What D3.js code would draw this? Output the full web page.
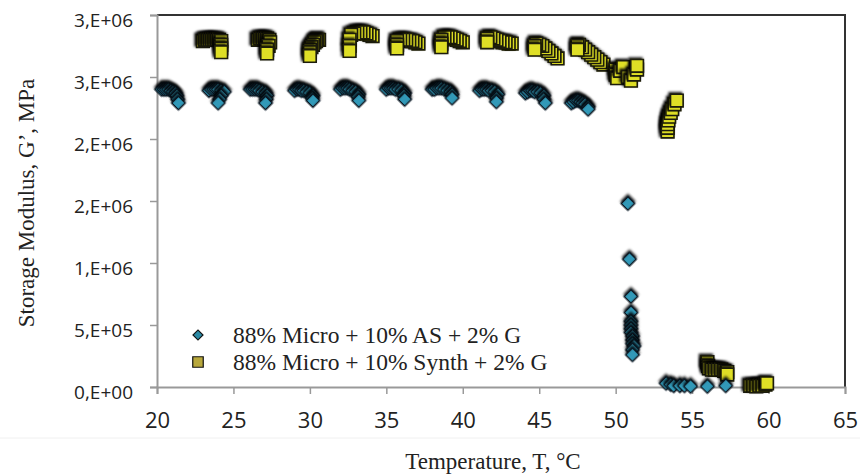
<!DOCTYPE html>
<html>
<head>
<meta charset="utf-8">
<script src="https://cdn.jsdelivr.net/npm/d3@7"></script>
<style>
  body { margin: 0; background: #fff; }
  .tick text { font-family: "Open Sans", sans-serif; fill: #222; }
  .title { font-family: "Liberation Serif", "Times New Roman", serif; fill: #222; }
</style>
</head>
<body>
<div id="chart"></div>
<script>
// Define SVG area
var svgWidth = 860;
var svgHeight = 474;

var margin = {top: 15, right: 15, bottom: 87, left: 157};
var chartWidth = svgWidth - margin.left - margin.right;
var chartHeight = svgHeight - margin.top - margin.bottom;

// Series names
var seriesNames = ['88% Micro + 10% AS + 2% G', '88% Micro + 10% Synth + 2% G'];

// 88% Micro + 10% AS + 2% G (blue diamonds), temperature in °C
var tempAS = [
  20.3, 20.45, 20.6, 20.75, 20.9, 21.05, 21.2, 21.3, 21.35, 21.4,
  23.4, 23.55, 23.7, 23.85, 24.0, 24.2, 24.4, 24.2, 24.1, 24.0,
  26.1, 26.25, 26.4, 26.55, 26.7, 26.9, 27.1, 27.2, 27.15, 27.1,
  29.0, 29.15, 29.3, 29.45, 29.6, 29.8, 30.0, 30.2, 30.15, 30.2,
  32.0, 32.15, 32.3, 32.45, 32.6, 32.8, 33.0, 33.2, 33.15, 33.2,
  35.0, 35.15, 35.3, 35.45, 35.6, 35.8, 36.0, 36.2, 36.15, 36.2,
  38.0, 38.15, 38.3, 38.45, 38.6, 38.8, 39.0, 39.2, 39.3, 39.3,
  41.1, 41.25, 41.4, 41.55, 41.7, 41.9, 42.1, 42.3, 42.2, 42.2,
  44.1, 44.25, 44.4, 44.55, 44.7, 44.9, 45.1, 45.3, 45.3, 45.4,
  47.1, 47.25, 47.4, 47.55, 47.7, 47.85, 48.0, 48.2, 48.2,
  50.8, 50.9, 51.0, 51.0, 51.0, 51.0, 51.0, 51.0, 51.1, 51.1, 51.1, 51.2, 51.1, 51.1,
  53.3, 53.6, 53.8, 54.2, 54.5, 54.9, 56.0, 57.2
];
// storage modulus, in units of 10^6
var modAS = [
  2.40, 2.40, 2.40, 2.40, 2.39, 2.38, 2.37, 2.35, 2.32, 2.29,
  2.39, 2.40, 2.40, 2.40, 2.40, 2.39, 2.38, 2.35, 2.32, 2.29,
  2.40, 2.40, 2.40, 2.40, 2.39, 2.38, 2.37, 2.35, 2.32, 2.29,
  2.39, 2.40, 2.40, 2.39, 2.39, 2.38, 2.37, 2.35, 2.33, 2.31,
  2.40, 2.41, 2.41, 2.41, 2.40, 2.39, 2.38, 2.36, 2.34, 2.31,
  2.40, 2.41, 2.41, 2.41, 2.40, 2.40, 2.39, 2.37, 2.35, 2.32,
  2.40, 2.40, 2.41, 2.41, 2.41, 2.40, 2.39, 2.38, 2.36, 2.33,
  2.39, 2.40, 2.40, 2.40, 2.39, 2.39, 2.38, 2.36, 2.33, 2.30,
  2.37, 2.38, 2.39, 2.39, 2.38, 2.38, 2.37, 2.35, 2.32, 2.29,
  2.29, 2.30, 2.31, 2.31, 2.30, 2.29, 2.28, 2.26, 2.24,
  1.48, 1.03, 0.73, 0.60, 0.53, 0.50, 0.47, 0.44, 0.41, 0.38, 0.35, 0.33, 0.30, 0.26,
  0.03, 0.02, 0.01, 0.01, 0.01, 0.005, 0.005, 0.01
];

// 88% Micro + 10% Synth + 2% G (yellow squares)
var tempSynth = [
  23.0, 23.15, 23.3, 23.45, 23.6, 23.75, 23.9, 24.05, 24.2, 24.2, 24.2, 24.2,
  26.6, 26.75, 26.9, 27.05, 27.2, 27.35, 27.4, 27.3, 27.2, 27.2,
  30.6, 30.5, 30.4, 30.3, 30.2, 30.1, 30.0, 30.0, 30.0,
  34.1, 33.9, 33.7, 33.5, 33.3, 33.1, 32.9, 32.7, 32.6, 32.6, 32.6,
  37.1, 36.9, 36.7, 36.5, 36.3, 36.1, 35.9, 35.7, 35.7, 35.7,
  40.0, 39.8, 39.6, 39.4, 39.2, 39.0, 38.8, 38.6, 38.6, 38.6,
  43.2, 43.0, 42.8, 42.6, 42.4, 42.2, 42.0, 41.8, 41.6, 41.6,
  46.2, 46.0, 45.8, 45.6, 45.4, 45.2, 45.0, 44.8, 44.7, 44.7,
  49.2, 49.0, 48.8, 48.6, 48.4, 48.2, 48.0, 47.8, 47.6, 47.5, 47.5,
  50.0, 50.0, 50.1, 50.3, 50.5, 50.8, 51.0, 51.2, 51.4, 51.4,
  53.4, 53.4, 53.4, 53.45, 53.5, 53.6, 53.7, 53.85, 54.0,
  56.0, 56.05, 56.1, 56.3, 56.5, 56.7, 56.9, 57.1, 57.3, 57.3,
  58.8, 59.0, 59.2, 59.4, 59.6, 59.8, 59.9
];
var modSynth = [
  2.79, 2.80, 2.80, 2.80, 2.80, 2.80, 2.80, 2.80, 2.79, 2.76, 2.73, 2.70,
  2.80, 2.81, 2.81, 2.81, 2.81, 2.80, 2.78, 2.75, 2.72, 2.69,
  2.80, 2.80, 2.79, 2.78, 2.76, 2.74, 2.72, 2.70, 2.67,
  2.83, 2.84, 2.85, 2.86, 2.86, 2.86, 2.85, 2.84, 2.80, 2.75, 2.71,
  2.77, 2.78, 2.79, 2.79, 2.80, 2.80, 2.80, 2.79, 2.76, 2.73,
  2.78, 2.79, 2.80, 2.81, 2.82, 2.82, 2.82, 2.80, 2.77, 2.74,
  2.77, 2.77, 2.78, 2.78, 2.79, 2.80, 2.81, 2.82, 2.81, 2.78,
  2.65, 2.67, 2.69, 2.71, 2.73, 2.75, 2.76, 2.77, 2.75, 2.72,
  2.60, 2.62, 2.64, 2.66, 2.68, 2.70, 2.72, 2.74, 2.76, 2.75, 2.72,
  2.56, 2.52, 2.49, 2.55, 2.58, 2.50, 2.47, 2.52, 2.56, 2.59,
  2.06, 2.09, 2.12, 2.15, 2.18, 2.21, 2.24, 2.28, 2.31,
  0.20, 0.17, 0.15, 0.14, 0.14, 0.14, 0.14, 0.13, 0.12, 0.10,
  0.01, 0.01, 0.005, 0.01, 0.01, 0.02, 0.03
];

// Tick values and labels (as printed on the original axis)
var xTicks = [20, 25, 30, 35, 40, 45, 50, 55, 60, 65];
var yTicks = [0, 0.5, 1, 1.5, 2, 2.5, 3];
var yTickLabels = ['0,E+00', '5,E+05', '1,E+06', '2,E+06', '2,E+06', '3,E+06', '3,E+06'];

var svg = d3.select('#chart')
    .append('svg')
    .attr('width', svgWidth)
    .attr('height', svgHeight);

var chartGroup = svg.append('g')
    .attr('transform', `translate(${margin.left},${margin.top})`);

var xScale = d3.scaleLinear().domain([20, 65]).range([0, chartWidth]);
var yScale = d3.scaleLinear().domain([0, 3]).range([chartHeight, 0]);

// frame (top + right dark)
chartGroup.append('path')
    .attr('d', `M0,0H${chartWidth}V${chartHeight}`)
    .attr('fill', 'none')
    .attr('stroke', '#333')
    .attr('stroke-width', 2);

// faint separator below x labels
svg.append('line')
    .attr('x1', 0).attr('x2', svgWidth)
    .attr('y1', 438).attr('y2', 438)
    .attr('stroke', '#f0f0f0');

// axes
var xAxis = chartGroup.append('g')
    .attr('transform', `translate(0,${chartHeight})`)
    .call(d3.axisBottom(xScale).tickValues(xTicks).tickSize(7).tickPadding(18));
xAxis.selectAll('text').style('font-size', '22px');

var yAxis = chartGroup.append('g')
    .call(d3.axisLeft(yScale).tickValues(yTicks).tickSize(7).tickPadding(17)
        .tickFormat((d, i) => yTickLabels[i]));
yAxis.selectAll('text').style('font-size', '19px').attr('dy', '0.62em');

[xAxis, yAxis].forEach(a => {
    a.select('.domain').attr('stroke', '#999').attr('stroke-width', 2);
    a.selectAll('.tick line').attr('stroke', '#999').attr('stroke-width', 1.5);
});

// shadow cast up-left onto the earlier markers (gives the dark stacked look)
var defs = svg.append('defs');
defs.append('filter').attr('id', 'shade')
    .attr('x', '-50%').attr('y', '-50%').attr('width', '200%').attr('height', '200%')
    .append('feDropShadow')
    .attr('dx', -1.5).attr('dy', -1.5)
    .attr('stdDeviation', 1.3)
    .attr('flood-color', '#000')
    .attr('flood-opacity', 0.9);

// markers
var diamond = d3.symbol().type(d3.symbolSquare).size(88);
var square = d3.symbol().type(d3.symbolSquare).size(160);

chartGroup.selectAll('.synth')
    .data(tempSynth)
    .enter()
    .append('path')
    .attr('d', square)
    .attr('transform', (d, i) => `translate(${xScale(d)},${yScale(modSynth[i])})`)
    .attr('fill', '#dfdf26')
    .attr('stroke', '#1a1a08')
    .attr('stroke-width', 1.6)
    .attr('filter', 'url(#shade)');

chartGroup.selectAll('.as')
    .data(tempAS)
    .enter()
    .append('path')
    .attr('d', diamond)
    .attr('transform', (d, i) => `translate(${xScale(d)},${yScale(modAS[i])}) rotate(45)`)
    .attr('fill', '#3399b8')
    .attr('stroke', '#081820')
    .attr('stroke-width', 1.6)
    .attr('filter', 'url(#shade)');

// legend
var legend = svg.append('g');
legend.append('path')
    .attr('d', d3.symbol().type(d3.symbolSquare).size(50))
    .attr('transform', 'translate(198,335) rotate(45)')
    .attr('fill', '#2b8aa5').attr('stroke', '#111').attr('stroke-width', 1.2);
legend.append('path')
    .attr('d', d3.symbol().type(d3.symbolSquare).size(110))
    .attr('transform', 'translate(198,362)')
    .attr('fill', '#b8a83c').attr('stroke', '#111').attr('stroke-width', 1.2);
seriesNames.forEach((name, i) => {
    legend.append('text')
        .classed('title', true)
        .attr('x', 233)
        .attr('y', 343 + i * 27)
        .style('font-size', '23.5px')
        .text(name);
});

// axis titles
svg.append('text')
    .classed('title', true)
    .attr('x', 493)
    .attr('y', 469)
    .attr('text-anchor', 'middle')
    .style('font-size', '23px')
    .text('Temperature, T, °C');

svg.append('text')
    .classed('title', true)
    .attr('transform', 'translate(34,203) rotate(-90)')
    .attr('text-anchor', 'middle')
    .style('font-size', '23px')
    .text('Storage Modulus, G’, MPa');
</script>
</body>
</html>
